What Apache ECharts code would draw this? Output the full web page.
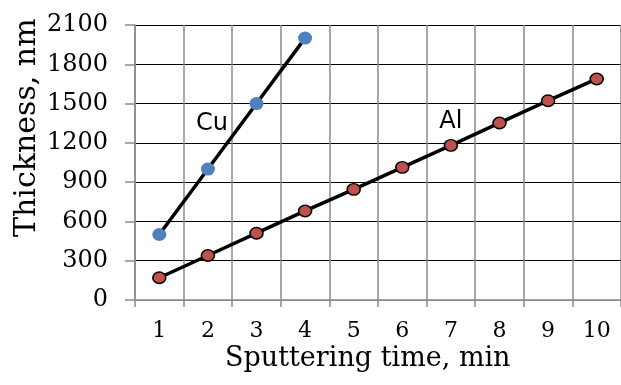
<!DOCTYPE html>
<html>
<head>
<meta charset="utf-8">
<script src="https://cdn.jsdelivr.net/npm/echarts@6/dist/echarts.min.js"></script>
<style>
html,body{margin:0;padding:0;background:#fff;}
#chart{width:621px;height:385px;}
</style>
</head>
<body>
<div id="chart"></div>
<script>
const categories = ['1', '2', '3', '4', '5', '6', '7', '8', '9', '10'];
const cuValues = [500, 1000, 1500, 2000];
const alValues = [170, 340, 510, 680, 845, 1013, 1181, 1352, 1522, 1688];
const yMin = 0, yMax = 2100, yStep = 300;
const xTitle = 'Sputtering time, min';
const yTitle = 'Thickness, nm';
const cuName = 'Cu', alName = 'Al';
const cuLabelIndex = 1, alLabelIndex = 6;

const serif = 'DejaVu Serif';
const sans = 'DejaVu Sans';

const chart = echarts.init(document.getElementById('chart'), null, {renderer: 'canvas'});

const nLines = (yMax - yMin) / yStep + 1;
const hColors = [];
for (let i = 0; i < nLines; i++) hColors.push(i === 0 ? '#8a8a8a' : '#000000');

const labelStyle = {color: '#000', fontFamily: sans, fontSize: 24};

const cuData = cuValues.map((v, i) => i === cuLabelIndex
  ? {value: v, label: Object.assign({show: true, position: 'top', formatter: cuName, offset: [4, -22]}, labelStyle)}
  : v);
const alData = alValues.map((v, i) => i === alLabelIndex
  ? {value: v, label: Object.assign({show: true, position: 'top', formatter: alName, offset: [0, 0]}, labelStyle)}
  : v);

chart.setOption({
  animation: false,
  backgroundColor: '#fff',
  grid: {left: 135, top: 25, right: -6, bottom: 85, containLabel: false},
  xAxis: {
    type: 'category',
    data: categories,
    boundaryGap: true,
    axisLine: {show: true, lineStyle: {color: '#8a8a8a', width: 1.5}},
    axisTick: {show: true, length: 7, alignWithLabel: false, lineStyle: {color: '#8a8a8a', width: 1.5}},
    axisLabel: {color: '#000', fontFamily: serif, fontSize: 22, margin: 20},
    splitLine: {show: true, interval: 0, lineStyle: {color: '#8a8a8a', width: 1.5}}
  },
  yAxis: {
    type: 'value',
    min: yMin, max: yMax, interval: yStep,
    axisLine: {show: true, lineStyle: {color: '#8a8a8a', width: 1.5}},
    axisTick: {show: true, length: 10, lineStyle: {color: '#8a8a8a', width: 1.5}},
    axisLabel: {color: '#000', fontFamily: serif, fontSize: 24, margin: 27, formatter: v => String(v)},
    splitLine: {show: true, lineStyle: {color: hColors, width: 1.2}}
  },
  graphic: [
    {type: 'text', left: 225, top: 345, style: {text: xTitle, fill: '#000', font: '27px "DejaVu Serif"'}},
    {type: 'text', x: 12, y: 237, rotation: Math.PI / 2, style: {text: yTitle, fill: '#000', font: '30px "DejaVu Serif"', align: 'left', verticalAlign: 'top'}}
  ],
  series: [
    {
      name: cuName, type: 'line', data: cuData,
      symbol: 'circle', symbolSize: [14, 13],
      lineStyle: {color: '#000', width: 3.5},
      itemStyle: {color: '#4f81bd', borderWidth: 0},
      z: 3
    },
    {
      name: alName, type: 'line', data: alData,
      symbol: 'circle', symbolSize: [13, 11.5],
      lineStyle: {color: '#000', width: 3.5},
      itemStyle: {color: '#c0504d', borderColor: '#000', borderWidth: 1.5},
      z: 3
    }
  ]
});
</script>
</body>
</html>
